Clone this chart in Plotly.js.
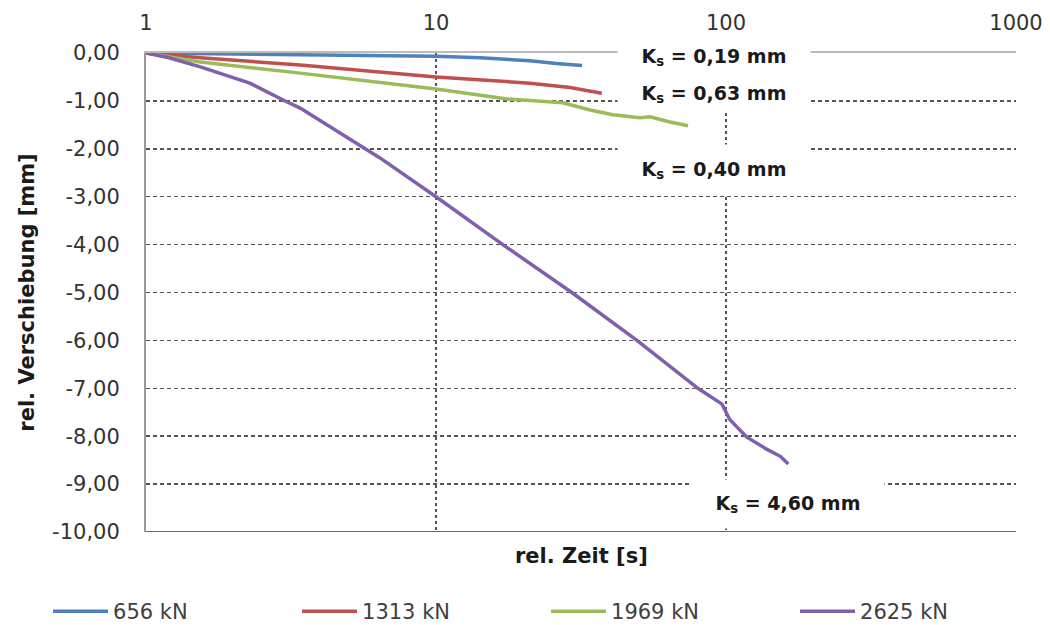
<!DOCTYPE html>
<html>
<head>
<meta charset="utf-8">
<script src="https://cdn.plot.ly/plotly-3.0.1.min.js"></script>
<style>html,body{margin:0;padding:0;background:#fff;}#chart{width:1050px;height:625px;}</style>
</head>
<body>
<div id="chart"></div>
<script>
// ---- data ----
const seriesNames = ["656 kN", "1313 kN", "1969 kN", "2625 kN"];
const seriesColors = ["#4F81BD", "#C0504D", "#9BBB59", "#7F5FAE"];

const t656 = [1, 2, 3.4, 6, 10, 14.2, 21.1, 26, 31.9];
const s656 = [0, -0.02, -0.04, -0.05, -0.07, -0.1, -0.16, -0.22, -0.26];

const t1313 = [1, 1.54, 3.4, 6, 10, 21.1, 29, 37.3];
const s1313 = [0, -0.1, -0.25, -0.38, -0.5, -0.63, -0.72, -0.84];

const t1969 = [1, 1.54, 3.4, 6, 10, 17.6, 27.4, 34.0, 40.7, 50.5, 54.7, 64.1, 74];
const s1969 = [0, -0.19, -0.42, -0.6, -0.75, -0.96, -1.04, -1.19, -1.29, -1.35, -1.33, -1.44, -1.52];

const t2625 = [1, 1.2, 1.54, 2.28, 2.97, 3.4, 6.41, 10, 17, 29.4, 49.3, 80, 96.9, 103, 118, 138, 154, 164];
const s2625 = [0, -0.1, -0.29, -0.63, -0.98, -1.15, -2.19, -3.0, -4.0, -5.0, -6.0, -7.0, -7.33, -7.65, -8.02, -8.27, -8.42, -8.58];

const xTickVals = [1, 10, 100, 1000];
const xTickText = ["1", "10", "100", "1000"];
const yTickVals = [0, -1, -2, -3, -4, -5, -6, -7, -8, -9, -10];
const yTickText = ["0,00", "-1,00", "-2,00", "-3,00", "-4,00", "-5,00", "-6,00", "-7,00", "-8,00", "-9,00", "-10,00"];

const ksLabels = ["K<sub>s</sub> = 0,19 mm", "K<sub>s</sub> = 0,63 mm", "K<sub>s</sub> = 0,40 mm", "K<sub>s</sub> = 4,60 mm"];
const ksX = [90.9, 90.9, 90.9, 164];
const ksY = [-0.08, -0.85, -2.44, -9.42];

// ---- chart ----
const times = [t656, t1313, t1969, t2625];
const vals = [s656, s1313, s1969, s2625];
const traces = seriesNames.map((n, i) => ({
  x: times[i], y: vals[i], name: n, type: "scatter", mode: "lines",
  line: {color: seriesColors[i], width: 3.5}
}));

const font = "DejaVu Sans, Open Sans, sans-serif";
const annotations = ksLabels.map((t, i) => ({
  text: "<b>" + t + "</b>", x: Math.log10(ksX[i]), y: ksY[i], xref: "x", yref: "y",
  showarrow: false, bgcolor: "#ffffff", width: 190, height: i === 2 ? 48 : (i === 3 ? 46 : 32),
  font: {family: font, size: 19, color: "#1a1a1a"}
}));
annotations.push({
  text: "<b>rel. Zeit [s]</b>", xref: "paper", yref: "paper", x: 0.5, y: -0.05,
  yanchor: "middle", showarrow: false, font: {family: font, size: 21, color: "#1a1a1a"}
});

const layout = {
  width: 1050, height: 625,
  margin: {l: 146, r: 34, t: 53, b: 93, autoexpand: false},
  paper_bgcolor: "#ffffff", plot_bgcolor: "#ffffff",
  showlegend: true,
  legend: {
    orientation: "h", x: -0.1126, xanchor: "left", y: -0.166, yanchor: "middle",
    entrywidth: 179, entrywidthmode: "pixels", itemwidth: 55,
    font: {family: font, size: 21, color: "#404040"}
  },
  xaxis: {
    type: "log", range: [0, 3], side: "top",
    tickvals: xTickVals, ticktext: xTickText,
    tickfont: {family: font, size: 21, color: "#333333"},
    ticks: "", ticklabelstandoff: 13,
    showgrid: true, gridcolor: "#555555", griddash: "dot", gridwidth: 1.5,
    showline: true, linecolor: "#bbbbbb", linewidth: 2,
    zeroline: false, fixedrange: true
  },
  yaxis: {
    range: [-10, 0],
    tickvals: yTickVals, ticktext: yTickText,
    tickfont: {family: font, size: 21, color: "#333333"},
    ticks: "", ticklabelstandoff: 20,
    showgrid: true, gridcolor: "#555555", griddash: "4px,3px", gridwidth: 1.5,
    showline: true, linecolor: "#999999", linewidth: 2,
    zeroline: false, fixedrange: true,
    title: {text: "<b>rel. Verschiebung [mm]</b>", font: {family: font, size: 21, color: "#1a1a1a"}, standoff: 12}
  },
  shapes: [{type: "line", xref: "paper", yref: "y", x0: 0, x1: 1, y0: -10, y1: -10,
            line: {color: "#666666", width: 2}}],
  annotations: annotations
};

Plotly.newPlot("chart", traces, layout, {displayModeBar: false, staticPlot: true});
</script>
</body>
</html>
